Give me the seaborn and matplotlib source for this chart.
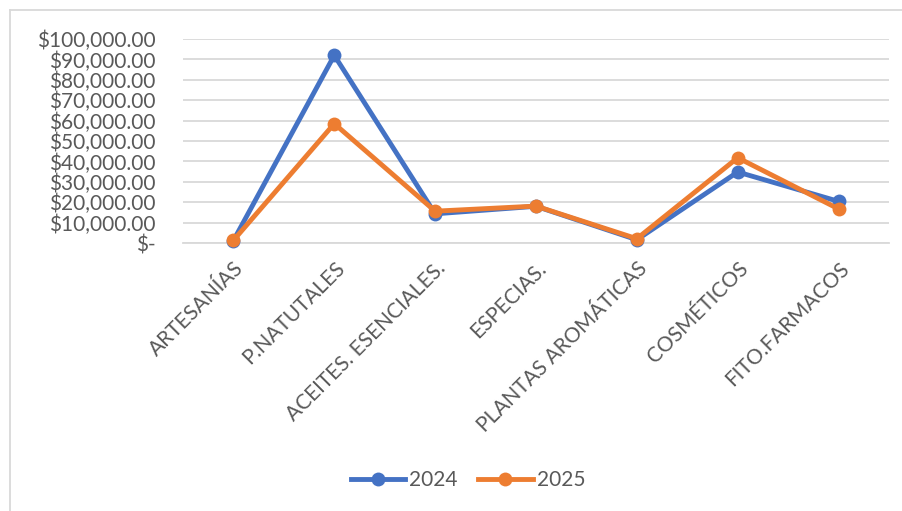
import seaborn as sns
import pandas as pd
import matplotlib.pyplot as plt
from matplotlib.lines import Line2D
from matplotlib.ticker import FuncFormatter

categories = ['ARTESANÍAS', 'P.NATUTALES', 'ACEITES. ESENCIALES.', 'ESPECIAS.',
              'PLANTAS AROMÁTICAS', 'COSMÉTICOS', 'FITO.FARMACOS']
values_2024 = [1200, 92000, 14300, 18000, 1600, 34800, 20400]
values_2025 = [1300, 58500, 15600, 18100, 2100, 41800, 16700]
years = ['2024', '2025']
colors = ['#4472C4', '#ED7D31']

df = pd.DataFrame({'categoria': categories * 2,
                   'valor': values_2024 + values_2025,
                   'anio': [years[0]] * 7 + [years[1]] * 7})
df['x'] = df['categoria'].map({c: i for i, c in enumerate(categories)})

plt.rcParams['font.family'] = ['Lato', 'DejaVu Sans']
fig = plt.figure(figsize=(9.03, 5.11), dpi=100)
ax = fig.add_axes([183 / 903, 1 - 243 / 511, 706 / 903, 204 / 511])

sns.lineplot(data=df, x='x', y='valor', hue='anio', palette=colors, marker='o',
             markersize=10, markeredgewidth=0, linewidth=3.5, ax=ax,
             legend=False, clip_on=False, zorder=3)

ax.set_xlim(-0.5, len(categories) - 0.5)
ax.set_ylim(0, 100000)
ax.set_yticks(range(0, 100001, 10000))
ax.yaxis.set_major_formatter(FuncFormatter(
    lambda v, p: '$-' if v == 0 else '${:,.2f}'.format(v)))
ax.set_xticks(range(len(categories)))
ax.set_xticklabels(categories, rotation=45, ha='right', rotation_mode='anchor')
ax.tick_params(axis='both', length=0, labelsize=15, labelcolor='#595959')
ax.tick_params(axis='x', pad=11)
ax.tick_params(axis='y', pad=20)
ax.grid(axis='y', color='#D9D9D9', linewidth=1.3)
ax.set_axisbelow(True)
for s in ['top', 'right', 'left']:
    ax.spines[s].set_visible(False)
ax.spines['bottom'].set_color('#D9D9D9')
ax.spines['bottom'].set_linewidth(1.3)
ax.set_xlabel('')
ax.set_ylabel('')

handles = [Line2D([0], [0], color=c, lw=3.5, marker='o', markersize=10,
                  markeredgewidth=0) for c in colors]
fig.legend(handles, years, loc='center', bbox_to_anchor=(468 / 903, 1 - 480 / 511),
           ncol=2, frameon=False, fontsize=15, labelcolor='#595959',
           handlelength=2.6, handletextpad=0.2, columnspacing=1.0)

# chart border
fig.add_artist(Line2D([10 / 903, 10 / 903], [0, 1 - 10 / 511], color='#D9D9D9', lw=1.3))
fig.add_artist(Line2D([10 / 903, 1], [1 - 10 / 511, 1 - 10 / 511], color='#D9D9D9', lw=1.3))

fig.savefig('out.png', dpi=100)
